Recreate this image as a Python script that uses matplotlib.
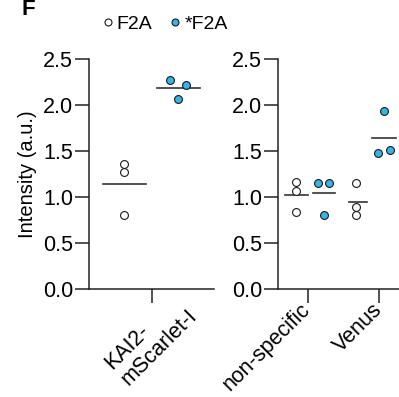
import matplotlib
matplotlib.use("Agg")
import matplotlib.pyplot as plt
from matplotlib.lines import Line2D
from matplotlib.transforms import ScaledTranslation
import numpy as np

plt.rcParams['font.family'] = ['Liberation Sans', 'DejaVu Sans']

# data
left_groups = ["KAI2-\nmScarlet-I"]
right_groups = ["non-specific", "Venus"]

f2a_kai2 = [1.355, 1.268, 0.80]
sf2a_kai2 = [2.27, 2.217, 2.065]
f2a_nonspec = [1.166, 1.068, 0.837]
sf2a_nonspec = [1.155, 1.155, 0.808]
f2a_venus = [1.149, 0.888, 0.804]
sf2a_venus = [1.938, 1.482, 1.507]

yticks = [0.0, 0.5, 1.0, 1.5, 2.0, 2.5]

blue = '#35b5e5'
edge = '#1a1a1a'
axcol = '#222222'


def style_axis(ax):
    ax.spines['top'].set_visible(False)
    ax.spines['right'].set_visible(False)
    for s in ['left', 'bottom']:
        ax.spines[s].set_linewidth(1.1)
        ax.spines[s].set_color(axcol)
    ax.tick_params(length=10, width=1.1, pad=1.5, labelsize=15.5, color=axcol)
    ax.set_ylim(0, 2.5)
    ax.set_yticks(yticks)
    ax.set_yticklabels([f"{t:.1f}" for t in yticks])


def draw_group(ax, xc, vals, offs, filled, mean_off, half):
    x = [xc + o for o in offs]
    ax.scatter(x, vals, s=32, facecolor=blue if filled else 'white',
               edgecolor=edge, linewidth=0.8, zorder=3, clip_on=False)
    m = np.mean(vals)
    ax.plot([xc + mean_off - half, xc + mean_off + half], [m, m],
            color='#333333', lw=1.2, zorder=2)


def shift_labels(ax, fig, dx, dy):
    off = ScaledTranslation(dx / 100, dy / 100, fig.dpi_scale_trans)
    for lab in ax.get_xticklabels():
        lab.set_transform(lab.get_transform() + off)


fig = plt.figure(figsize=(3.99, 3.97), dpi=100)

ax1 = fig.add_axes([0.223, 0.272, 0.313, 0.579])
ax2 = fig.add_axes([0.697, 0.272, 0.31, 0.579])

# left panel
ax1.set_xlim(-1.26, 1.24)
draw_group(ax1, 0, f2a_kai2, [-0.56, -0.56, -0.56], False, -0.55, 0.43)
draw_group(ax1, 0, sf2a_kai2, [0.36, 0.68, 0.52], True, 0.53, 0.43)
style_axis(ax1)
ax1.set_xticks([0])
ax1.set_xticklabels(left_groups, rotation=45, ha='center', va='top',
                    multialignment='left', linespacing=1.1)
shift_labels(ax1, fig, -1, 16)
ax1.set_ylabel("Intensity (a.u.)", fontsize=14.5, labelpad=4)

# right panel
ax2.set_xlim(-0.58, 1.86)
pos = [0, 1.42]
draw_group(ax2, pos[0], f2a_nonspec, [-0.226, -0.226, -0.226], False, -0.22, 0.22)
draw_group(ax2, pos[0], sf2a_nonspec, [0.206, 0.426, 0.326], True, 0.32, 0.22)
draw_group(ax2, pos[1], f2a_venus, [-0.46, -0.46, -0.46], False, -0.42, 0.18)
draw_group(ax2, pos[1], sf2a_venus, [0.086, -0.02, 0.206], True, 0.09, 0.23)
style_axis(ax2)
ax2.set_xticks(pos)
ax2.set_xticklabels(right_groups, rotation=45, ha='right', va='top')
shift_labels(ax2, fig, 7, 6)

# legend
handles = [
    Line2D([], [], ls='none', marker='o', ms=5, mfc='white', mec=edge, mew=0.8),
    Line2D([], [], ls='none', marker='o', ms=5, mfc=blue, mec=edge, mew=0.8),
]
fig.legend(handles, ["F2A", "*F2A"], ncol=2, frameon=False, fontsize=14,
           loc='center left', bbox_to_anchor=(0.255, 0.939),
           handlelength=0.6, handletextpad=0.15, columnspacing=0.9,
           borderpad=0, borderaxespad=0)

fig.text(0.055, 1 - 15 / 397, "F", fontsize=16, fontweight='bold',
         va='baseline', ha='left')

fig.savefig("out.png", dpi=100)
